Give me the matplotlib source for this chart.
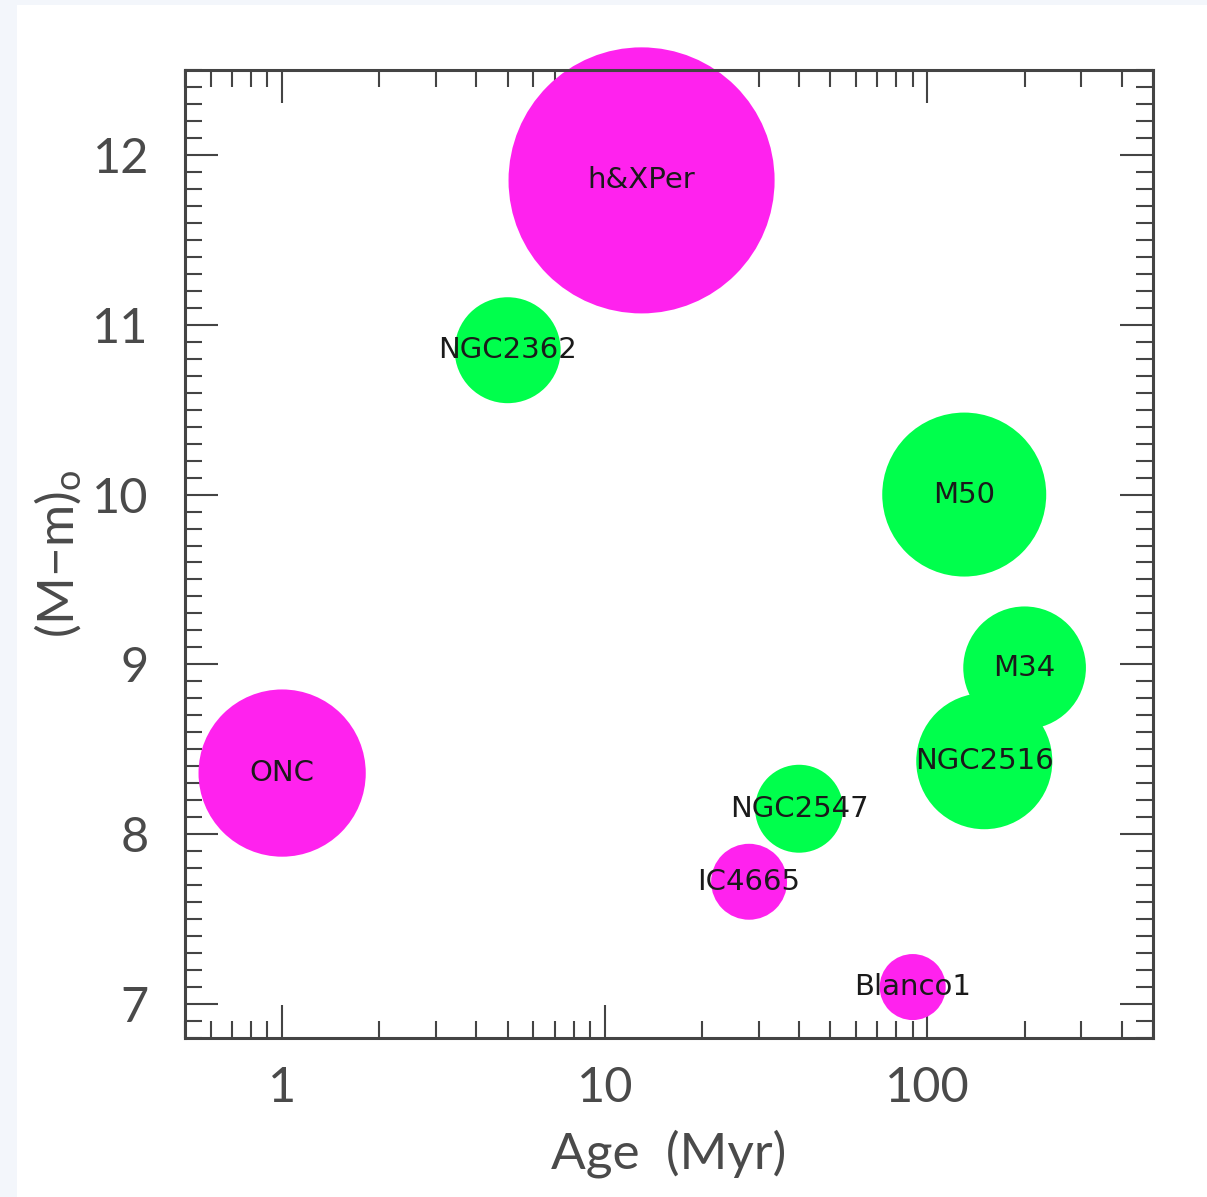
import matplotlib
matplotlib.use("Agg")
import matplotlib.pyplot as plt
from matplotlib.ticker import FixedLocator, LogLocator, MultipleLocator, NullFormatter, FixedFormatter
from matplotlib.patches import Rectangle

# Open clusters: age, distance modulus and bubble area (pt^2)
clusters = ["h&XPer", "NGC2362", "M50", "M34", "NGC2516", "NGC2547", "ONC", "IC4665", "Blanco1"]
age_myr = [13, 5, 130, 200, 150, 40, 1, 28, 90]
dist_mod = [11.85, 10.85, 10.0, 8.98, 8.43, 8.15, 8.36, 7.72, 7.1]
bubble_area = [36700, 5820, 13940, 7800, 9600, 4010, 14500, 2990, 2260]
group = ["m", "g", "g", "g", "g", "g", "m", "m", "m"]

colors = {"m": "#ff22ee", "g": "#00ff4c"}

x_ticks = [1, 10, 100]
x_ticklabels = ["1", "10", "100"]
y_ticks = [7, 8, 9, 10, 11, 12]
y_ticklabels = ["7", "8", "9", "10", "11", "12"]

plt.rcParams["mathtext.default"] = "regular"
W, H = 1207, 1197
fig = plt.figure(figsize=(W / 100, H / 100), dpi=100, facecolor="#f3f6fb")
fig.patches.append(Rectangle((17 / W, 0), 1 - 17 / W, 1 - 5 / H, transform=fig.transFigure,
                             facecolor="white", edgecolor="none", zorder=-10))

ax = fig.add_axes([185 / W, 1 - 1038 / H, (1153 - 185) / W, (1038 - 70) / H])
ax.set_facecolor("white")
ax.set_xscale("log")
ax.set_xlim(0.5, 500)
ax.set_ylim(6.8, 12.5)

# green clusters underneath, magenta on top
for grp in ["g", "m"]:
    idx = [i for i, g in enumerate(group) if g == grp]
    ax.scatter([age_myr[i] for i in idx], [dist_mod[i] for i in idx],
               s=[bubble_area[i] for i in idx], c=colors[grp], edgecolors="none",
               clip_on=False, zorder=2)

for name, x, y in zip(clusters, age_myr, dist_mod):
    ax.text(x, y, name, ha="center", va="center", fontsize=21, color="#1a1a1a",
            family="DejaVu Sans", zorder=5)

spine_c = "#444444"
for sp in ax.spines.values():
    sp.set_linewidth(2.2)
    sp.set_color(spine_c)
    sp.set_zorder(6)

ax.xaxis.set_major_locator(FixedLocator(x_ticks))
ax.xaxis.set_major_formatter(FixedFormatter(x_ticklabels))
ax.xaxis.set_minor_locator(LogLocator(base=10, subs=range(2, 10)))
ax.xaxis.set_minor_formatter(NullFormatter())
ax.yaxis.set_major_locator(FixedLocator(y_ticks))
ax.yaxis.set_major_formatter(FixedFormatter(y_ticklabels))
ax.yaxis.set_minor_locator(MultipleLocator(0.1))

label_c = "#4a4a4a"
ax.tick_params(which="both", direction="in", top=True, right=True, color=spine_c,
               width=1.5, labelcolor=label_c, labelsize=35)
ax.tick_params(which="major", length=24)
ax.tick_params(which="minor", length=12)
ax.tick_params(axis="x", which="major", pad=20)
ax.tick_params(axis="y", which="major", pad=26)
for lab in ax.get_xticklabels() + ax.get_yticklabels():
    lab.set_family("Lato")

ax.set_xlabel("Age  (Myr)", fontsize=37, color=label_c, family="Lato", labelpad=14)
ax.set_ylabel("(M\u2212m)$_o$", fontsize=37, color=label_c, family="Lato", labelpad=6)

fig.savefig("out.png", dpi=100, facecolor=fig.get_facecolor())
